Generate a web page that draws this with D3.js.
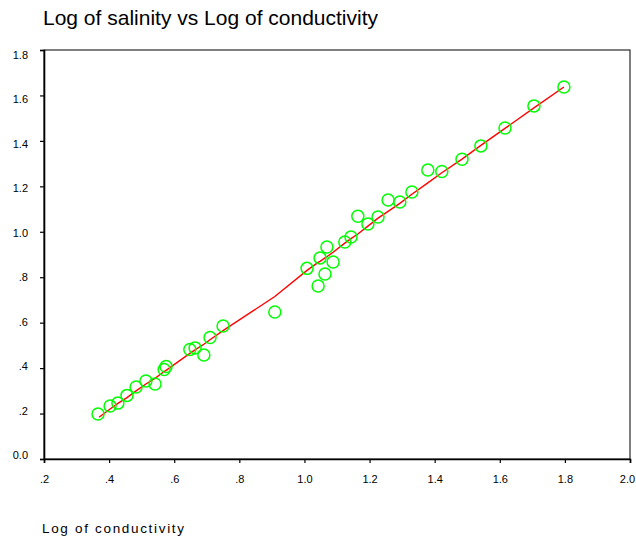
<!DOCTYPE html>
<html>
<head>
<meta charset="utf-8">
<script src="https://cdn.jsdelivr.net/npm/d3@7/dist/d3.min.js"></script>
<style>
  html, body { margin: 0; padding: 0; background: #fff; }
  svg { display: block; }
  text { font-family: "Liberation Sans", Arial, sans-serif; fill: #000; }
</style>
</head>
<body>
<svg id="chart" width="636" height="542"></svg>
<script>
// ---- data ----
const titleText = "Log of salinity vs Log of conductivity";
const xTitleText = "Log of conductivity";

const logConductivity = [0.366, 0.403, 0.427, 0.455, 0.483, 0.513, 0.541, 0.569, 0.575,
  0.648, 0.664, 0.691, 0.710, 0.750, 0.909, 1.008, 1.042, 1.048, 1.063, 1.069, 1.088,
  1.124, 1.143, 1.164, 1.195, 1.226, 1.257, 1.293, 1.330, 1.379, 1.422, 1.484, 1.542,
  1.616, 1.705, 1.797];
const logSalinity = [0.198, 0.233, 0.246, 0.280, 0.317, 0.343, 0.330, 0.394, 0.407,
  0.482, 0.489, 0.458, 0.535, 0.585, 0.647, 0.839, 0.761, 0.885, 0.814, 0.933, 0.867,
  0.955, 0.977, 1.068, 1.034, 1.065, 1.140, 1.131, 1.175, 1.272, 1.265, 1.319, 1.378,
  1.457, 1.554, 1.637];

const fitX = [0.369, 0.403, 0.427, 0.455, 0.483, 0.513, 0.541, 0.569, 0.575, 0.648, 0.664,
  0.691, 0.710, 0.750, 0.909, 1.008, 1.042, 1.048, 1.063, 1.069, 1.088, 1.124, 1.143,
  1.164, 1.195, 1.226, 1.257, 1.293, 1.330, 1.379, 1.422, 1.484, 1.542, 1.616, 1.705, 1.797];
const fitY = [0.184, 0.220, 0.245, 0.270, 0.300, 0.330, 0.355, 0.385, 0.390, 0.465, 0.480,
  0.505, 0.525, 0.565, 0.715, 0.830, 0.865, 0.870, 0.885, 0.890, 0.910, 0.950, 0.970,
  0.990, 1.025, 1.060, 1.090, 1.125, 1.165, 1.215, 1.260, 1.320, 1.380, 1.455, 1.545, 1.637];

const xTicks = [0.2, 0.4, 0.6, 0.8, 1.0, 1.2, 1.4, 1.6, 1.8, 2.0];
const yTicks = [0.0, 0.2, 0.4, 0.6, 0.8, 1.0, 1.2, 1.4, 1.6, 1.8];
const xTickLabels = [".2", ".4", ".6", ".8", "1.0", "1.2", "1.4", "1.6", "1.8", "2.0"];
const yTickLabels = ["0.0", ".2", ".4", ".6", ".8", "1.0", "1.2", "1.4", "1.6", "1.8"];

// ---- layout ----
const svg = d3.select("#chart");
const mLeft = 44, mRight = 630, mTop = 50, mBottom = 459;

const x = d3.scaleLinear().domain([0.2, 2.0]).range([mLeft, mRight]);
const y = d3.scaleLinear().domain([0, 1.8]).range([mBottom, mTop]);

// frame
svg.append("rect")
  .attr("x", mLeft).attr("y", mTop)
  .attr("width", mRight - mLeft).attr("height", mBottom - mTop)
  .attr("fill", "none").attr("stroke", "#000").attr("stroke-width", 1);

// axes
const xAxis = d3.axisBottom(x).tickValues(xTicks).tickSize(4).tickPadding(12)
  .tickFormat((d, i) => xTickLabels[i]);
const gx = svg.append("g").attr("transform", `translate(0,${mBottom})`).call(xAxis);
gx.select(".domain").attr("stroke-width", 1.6);
gx.selectAll(".tick line").attr("stroke-width", 1.2);
gx.selectAll("text").style("font-size", "11px").attr("fill", "#000")
  .attr("x", d => (d === 2.0 ? -3 : 0));

const yAxis = d3.axisLeft(y).tickValues(yTicks).tickSize(4).tickPadding(12)
  .tickFormat((d, i) => yTickLabels[i]);
const gy = svg.append("g").attr("transform", `translate(${mLeft},0)`).call(yAxis);
gy.select(".domain").attr("stroke-width", 1.6);
gy.selectAll(".tick line").attr("stroke-width", 1.2);
gy.selectAll("text").style("font-size", "11px").attr("fill", "#000")
  .attr("y", d => -4 + d / 1.8 * 9);

// fit line
const line = d3.line().x(d => x(d[0])).y(d => y(d[1]));
svg.append("path")
  .datum(fitX.map((v, i) => [v, fitY[i]]))
  .attr("d", line)
  .attr("fill", "none").attr("stroke", "#ff0000").attr("stroke-width", 1.4);

// points
svg.append("g").selectAll("circle")
  .data(logConductivity.map((v, i) => [v, logSalinity[i]]))
  .join("circle")
  .attr("cx", d => x(d[0])).attr("cy", d => y(d[1])).attr("r", 6)
  .attr("fill", "none").attr("stroke", "#00ff00").attr("stroke-width", 1.5);

// titles
svg.append("text").attr("x", 43).attr("y", 25)
  .style("font-size", "21px").text(titleText);
svg.append("text").attr("x", 42).attr("y", 533)
  .style("font-size", "13.5px")
  .attr("textLength", 142).attr("lengthAdjust", "spacing")
  .text(xTitleText);
</script>
</body>
</html>
